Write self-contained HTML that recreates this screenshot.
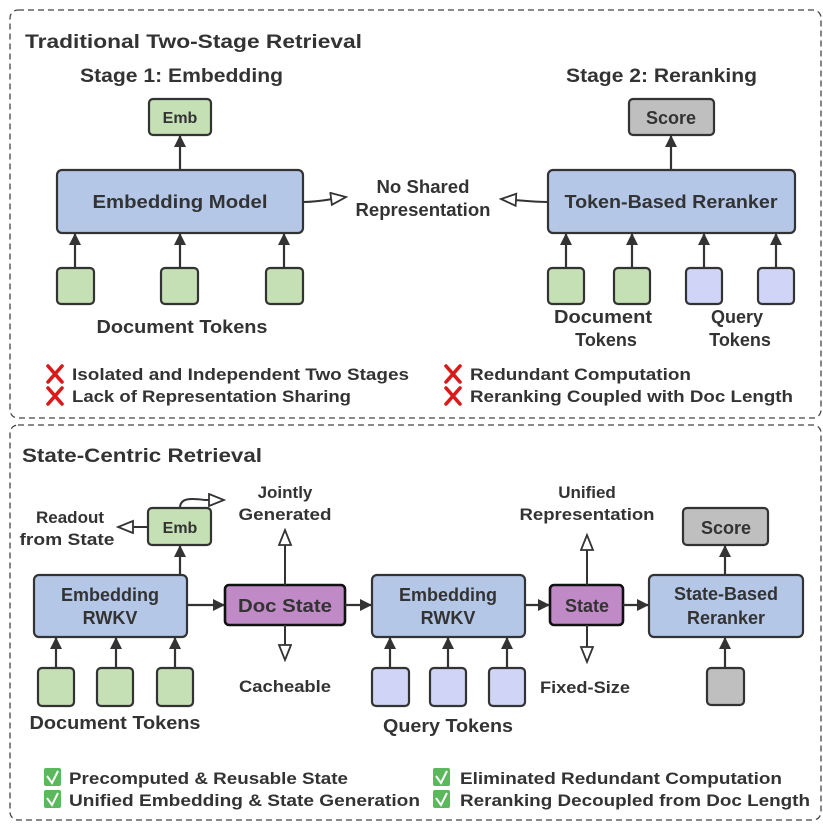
<!DOCTYPE html>
<html><head><meta charset="utf-8"><style>
html,body{margin:0;padding:0;background:#fff;}
svg{display:block;}
text{font-family:"Liberation Sans",sans-serif;font-weight:bold;fill:#333;}
</style></head><body>
<svg width="823" height="824" viewBox="0 0 823 824" xmlns="http://www.w3.org/2000/svg">
<defs>
<marker id="a" markerWidth="12" markerHeight="14" refX="11" refY="7" orient="auto" markerUnits="userSpaceOnUse"><path d="M0,1 L12,7 L0,13 z" fill="#333"/></marker>
<marker id="h" markerWidth="18" markerHeight="16" refX="16" refY="7" orient="auto" markerUnits="userSpaceOnUse"><path d="M1,1 L16,7 L1,13 z" fill="#fff" stroke="#333" stroke-width="1.8"/></marker>
<g id="x"><path d="M0,0 L14,16 M14,0 L0,16" stroke="#d91a1a" stroke-width="3.6" stroke-linecap="round"/></g>
</defs>
<g fill="none" stroke="#444" stroke-width="1.3" stroke-dasharray="6,4">
<rect x="10" y="10" width="811" height="408" rx="8"/>
<rect x="10" y="425" width="811" height="395" rx="8"/>
</g>

<!-- TOP -->
<text x="25" y="48" font-size="19" textLength="337" lengthAdjust="spacingAndGlyphs">Traditional Two-Stage Retrieval</text>
<text x="80" y="82" font-size="19" textLength="203" lengthAdjust="spacingAndGlyphs">Stage 1: Embedding</text>
<text x="566" y="82" font-size="19" textLength="191" lengthAdjust="spacingAndGlyphs">Stage 2: Reranking</text>

<g stroke="#333" stroke-width="2.2">
<rect x="149" y="99" width="62" height="36" rx="4" fill="#c5e0b4"/>
<rect x="57" y="170" width="246" height="63" rx="5" fill="#b4c7e7"/>
<rect x="57" y="268" width="37" height="36" rx="4" fill="#c5e0b4"/>
<rect x="161" y="268" width="37" height="36" rx="4" fill="#c5e0b4"/>
<rect x="266" y="268" width="37" height="36" rx="4" fill="#c5e0b4"/>
<rect x="629" y="99" width="85" height="36" rx="4" fill="#bfbfbf"/>
<rect x="548" y="170" width="247" height="63" rx="5" fill="#b4c7e7"/>
<rect x="548" y="268" width="36" height="36" rx="4" fill="#c5e0b4"/>
<rect x="614" y="268" width="36" height="36" rx="4" fill="#c5e0b4"/>
<rect x="686" y="268" width="36" height="36" rx="4" fill="#d0d4f7"/>
<rect x="758" y="268" width="36" height="36" rx="4" fill="#d0d4f7"/>
</g>
<g stroke="#333" stroke-width="2.2" marker-end="url(#a)" fill="none">
<line x1="180" y1="170" x2="180" y2="136"/>
<line x1="75" y1="268" x2="75" y2="234"/>
<line x1="180" y1="268" x2="180" y2="234"/>
<line x1="284" y1="268" x2="284" y2="234"/>
<line x1="671" y1="170" x2="671" y2="136"/>
<line x1="566" y1="268" x2="566" y2="234"/>
<line x1="632" y1="268" x2="632" y2="234"/>
<line x1="704" y1="268" x2="704" y2="234"/>
<line x1="776" y1="268" x2="776" y2="234"/>
</g>
<g stroke="#333" stroke-width="2" fill="none" marker-end="url(#h)">
<path d="M303,202 C320,202 330,199 346,197"/>
<path d="M548,202 C530,202 520,200 501,199"/>
</g>
<text x="180" y="123" font-size="16" text-anchor="middle">Emb</text>
<text x="180" y="208" font-size="18" text-anchor="middle" textLength="175" lengthAdjust="spacingAndGlyphs">Embedding Model</text>
<text x="182" y="333" font-size="18" text-anchor="middle" textLength="171" lengthAdjust="spacingAndGlyphs">Document Tokens</text>
<text x="423" y="193" font-size="18" text-anchor="middle" textLength="93" lengthAdjust="spacingAndGlyphs">No Shared</text>
<text x="423" y="216" font-size="18" text-anchor="middle" textLength="135" lengthAdjust="spacingAndGlyphs">Representation</text>
<text x="671" y="124" font-size="18" text-anchor="middle">Score</text>
<text x="671" y="208" font-size="18" text-anchor="middle" textLength="213" lengthAdjust="spacingAndGlyphs">Token-Based Reranker</text>
<text x="603" y="323" font-size="18" text-anchor="middle" textLength="98" lengthAdjust="spacingAndGlyphs">Document</text>
<text x="606" y="346" font-size="18" text-anchor="middle">Tokens</text>
<text x="737" y="323" font-size="18" text-anchor="middle">Query</text>
<text x="740" y="346" font-size="18" text-anchor="middle">Tokens</text>

<use href="#x" x="48" y="366"/>
<use href="#x" x="48" y="388"/>
<use href="#x" x="446" y="366"/>
<use href="#x" x="446" y="388"/>
<g font-size="17">
<text x="72" y="380" textLength="337" lengthAdjust="spacingAndGlyphs">Isolated and Independent Two Stages</text>
<text x="72" y="402" textLength="279" lengthAdjust="spacingAndGlyphs">Lack of Representation Sharing</text>
<text x="470" y="380" textLength="221" lengthAdjust="spacingAndGlyphs">Redundant Computation</text>
<text x="470" y="402" textLength="323" lengthAdjust="spacingAndGlyphs">Reranking Coupled with Doc Length</text>
</g>

<!-- BOTTOM -->
<text x="22" y="462" font-size="19" textLength="240" lengthAdjust="spacingAndGlyphs">State-Centric Retrieval</text>

<g stroke="#333" stroke-width="2.2">
<rect x="148" y="508" width="63" height="37" rx="4" fill="#c5e0b4"/>
<rect x="34" y="575" width="153" height="62" rx="5" fill="#b4c7e7"/>
<rect x="225" y="585" width="120" height="40" rx="4" fill="#c08ac6" stroke="#111" stroke-width="2.6"/>
<rect x="372" y="575" width="153" height="62" rx="5" fill="#b4c7e7"/>
<rect x="550" y="585" width="73" height="40" rx="4" fill="#c08ac6" stroke="#111" stroke-width="2.6"/>
<rect x="649" y="575" width="154" height="62" rx="5" fill="#b4c7e7"/>
<rect x="683" y="508" width="85" height="37" rx="4" fill="#bfbfbf"/>
<rect x="38" y="668" width="36" height="38" rx="4" fill="#c5e0b4"/>
<rect x="97" y="668" width="36" height="38" rx="4" fill="#c5e0b4"/>
<rect x="157" y="668" width="36" height="38" rx="4" fill="#c5e0b4"/>
<rect x="372" y="668" width="37" height="38" rx="4" fill="#d0d4f7"/>
<rect x="430" y="668" width="36" height="38" rx="4" fill="#d0d4f7"/>
<rect x="489" y="668" width="36" height="38" rx="4" fill="#d0d4f7"/>
<rect x="707" y="668" width="37" height="37" rx="4" fill="#bfbfbf"/>
</g>
<g stroke="#333" stroke-width="2.2" marker-end="url(#a)" fill="none">
<line x1="180" y1="575" x2="180" y2="546"/>
<line x1="187" y1="605" x2="224" y2="605"/>
<line x1="345" y1="605" x2="371" y2="605"/>
<line x1="525" y1="605" x2="549" y2="605"/>
<line x1="623" y1="605" x2="648" y2="605"/>
<line x1="56" y1="668" x2="56" y2="638"/>
<line x1="116" y1="668" x2="116" y2="638"/>
<line x1="175" y1="668" x2="175" y2="638"/>
<line x1="390" y1="668" x2="390" y2="638"/>
<line x1="448" y1="668" x2="448" y2="638"/>
<line x1="507" y1="668" x2="507" y2="638"/>
<line x1="725" y1="668" x2="725" y2="638"/>
<line x1="725" y1="575" x2="725" y2="546"/>
</g>
<g stroke="#333" stroke-width="2" fill="none" marker-end="url(#h)">
<line x1="148" y1="527" x2="118" y2="527"/>
<path d="M180,508 C180,498 190,498 205,500 L224,500"/>
<line x1="285" y1="585" x2="285" y2="530"/>
<line x1="285" y1="625" x2="285" y2="660"/>
<line x1="587" y1="585" x2="587" y2="535"/>
<line x1="587" y1="625" x2="587" y2="662"/>
</g>
<text x="180" y="533" font-size="16" text-anchor="middle">Emb</text>
<text x="70" y="523" font-size="17" text-anchor="middle">Readout</text>
<text x="67" y="545" font-size="17" text-anchor="middle" textLength="95" lengthAdjust="spacingAndGlyphs">from State</text>
<text x="285" y="498" font-size="17" text-anchor="middle">Jointly</text>
<text x="285" y="520" font-size="17" text-anchor="middle" textLength="93" lengthAdjust="spacingAndGlyphs">Generated</text>
<text x="110" y="601" font-size="18" text-anchor="middle">Embedding</text>
<text x="110" y="624" font-size="18" text-anchor="middle">RWKV</text>
<text x="285" y="612" font-size="18" text-anchor="middle" textLength="94" lengthAdjust="spacingAndGlyphs">Doc State</text>
<text x="285" y="692" font-size="17" text-anchor="middle" textLength="92" lengthAdjust="spacingAndGlyphs">Cacheable</text>
<text x="115" y="729" font-size="18" text-anchor="middle" textLength="171" lengthAdjust="spacingAndGlyphs">Document Tokens</text>
<text x="448" y="601" font-size="18" text-anchor="middle">Embedding</text>
<text x="448" y="624" font-size="18" text-anchor="middle">RWKV</text>
<text x="448" y="732" font-size="18" text-anchor="middle" textLength="130" lengthAdjust="spacingAndGlyphs">Query Tokens</text>
<text x="587" y="498" font-size="17" text-anchor="middle">Unified</text>
<text x="587" y="520" font-size="17" text-anchor="middle" textLength="135" lengthAdjust="spacingAndGlyphs">Representation</text>
<text x="587" y="612" font-size="18" text-anchor="middle">State</text>
<text x="585" y="693" font-size="17" text-anchor="middle" textLength="90" lengthAdjust="spacingAndGlyphs">Fixed-Size</text>
<text x="726" y="600" font-size="18" text-anchor="middle">State-Based</text>
<text x="726" y="624" font-size="18" text-anchor="middle">Reranker</text>
<text x="726" y="534" font-size="18" text-anchor="middle">Score</text>

<g>
<rect x="44" y="768" width="17" height="18" rx="2" fill="#5cb85c"/>
<rect x="44" y="790" width="17" height="18" rx="2" fill="#5cb85c"/>
<rect x="433" y="768" width="17" height="18" rx="2" fill="#5cb85c"/>
<rect x="433" y="790" width="17" height="18" rx="2" fill="#5cb85c"/>
<g stroke="#fff" stroke-width="2" fill="none">
<path d="M47,776 L52,783 L58,771"/><path d="M47,798 L52,805 L58,793"/>
<path d="M436,776 L441,783 L447,771"/><path d="M436,798 L441,805 L447,793"/>
</g>
</g>
<g font-size="17">
<text x="69" y="784" textLength="279" lengthAdjust="spacingAndGlyphs">Precomputed &amp; Reusable State</text>
<text x="69" y="806" textLength="351" lengthAdjust="spacingAndGlyphs">Unified Embedding &amp; State Generation</text>
<text x="460" y="784" textLength="322" lengthAdjust="spacingAndGlyphs">Eliminated Redundant Computation</text>
<text x="460" y="806" textLength="350" lengthAdjust="spacingAndGlyphs">Reranking Decoupled from Doc Length</text>
</g>
</svg>
</body></html>
